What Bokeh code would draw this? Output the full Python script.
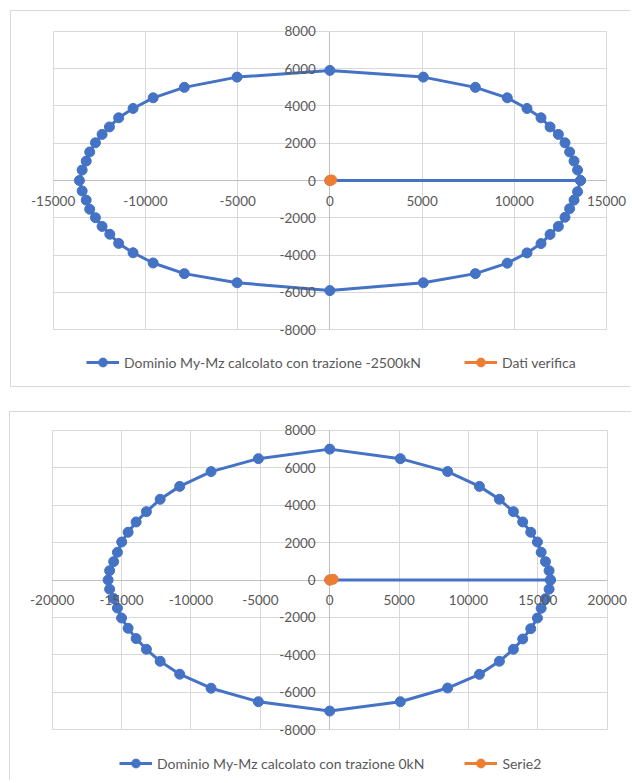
from bokeh.plotting import figure
from bokeh.models import Range1d, LinearAxis, FixedTicker, Legend, LegendItem, Grid, Spacer
from bokeh.layouts import column, row
from bokeh.embed import file_html
from bokeh.resources import INLINE

# ---------------- data: chart 1 (trazione -2500kN) ----------------
dom1_x = [0,
          13590, 13430, 13240, 13000, 12750, 12390, 11940, 11450, 10690, 9620, 7890, 5070, 0,
          -5030, -7890, -9580, -10670, -11450, -11950, -12350, -12710, -13020, -13210, -13430, -13580,
          -13430, -13210, -13020, -12710, -12350, -11930, -11450, -10670, -9580, -7890, -5030, 0,
          5070, 7890, 9620, 10690, 11450, 11940, 12390, 12750, 13000, 13240, 13430, 13590]
dom1_y = [0,
          0, 560, 1040, 1530, 2020, 2470, 2870, 3360, 3860, 4430, 4990, 5540, 5900,
          5540, 4990, 4430, 3860, 3360, 2870, 2470, 2020, 1530, 1040, 560, 0,
          -560, -1050, -1540, -1990, -2460, -2880, -3370, -3870, -4420, -4990, -5480, -5900,
          -5480, -4990, -4430, -3880, -3380, -2890, -2460, -1970, -1510, -1050, -600, 0]
ver1_x = [0, 100]
ver1_y = [0, 30]
label_dom1 = "Dominio My-Mz calcolato con trazione -2500kN"
label_ver1 = "Dati verifica"
x1_ticks = [-15000, -10000, -5000, 0, 5000, 10000, 15000]
x1_labels = ["-15000", "-10000", "-5000", "0", "5000", "10000", "15000"]

# ---------------- data: chart 2 (trazione 0kN) ----------------
dom2_x = [0,
          15910, 15810, 15550, 15240, 14970, 14490, 13910, 13240, 12230, 10790, 8500, 5090, 0,
          -5140, -8550, -10810, -12220, -13210, -13950, -14530, -14990, -15300, -15570, -15860, -15970,
          -15860, -15570, -15300, -15000, -14530, -13950, -13210, -12220, -10810, -8550, -5140, 0,
          5090, 8500, 10790, 12230, 13240, 13910, 14490, 14970, 15240, 15550, 15810, 15910]
dom2_y = [0,
          0, 500, 980, 1480, 2030, 2550, 3100, 3650, 4310, 5000, 5790, 6480, 6990,
          6480, 5790, 5000, 4310, 3650, 3100, 2550, 2030, 1480, 980, 500, 0,
          -490, -990, -1500, -2030, -2580, -3130, -3700, -4340, -5030, -5780, -6500, -7000,
          -6500, -5770, -5040, -4340, -3700, -3150, -2600, -2030, -1510, -1000, -490, 0]
ver2_x = [0, 250]
ver2_y = [0, 40]
label_dom2 = "Dominio My-Mz calcolato con trazione 0kN"
label_ver2 = "Serie2"
x2_ticks = [-20000, -15000, -10000, -5000, 0, 5000, 10000, 15000, 20000]
x2_labels = ["-20000", "-15000", "-10000", "-5000", "0", "5000", "10000", "15000", "20000"]

y_ticks = [-8000, -6000, -4000, -2000, 0, 2000, 4000, 6000, 8000]
y_labels = ["-8000", "-6000", "-4000", "-2000", "0", "2000", "4000", "6000", "8000"]

BLUE = "#4472C4"
ORANGE = "#ED7D31"
TEXT = "#595959"
GRID = "#D9D9D9"
AXIS = "#BFBFBF"
FONT = "Lato"
FSIZE = "13.5px"
LSIZE = "14px"
BORDER = "1px solid #D9D9D9"


def padded_range(v0, v1, p0, p1, c0, c1):
    """Range whose values v0/v1 fall at pixels p0/p1 of a frame spanning pixels c0..c1."""
    k = (p1 - p0) / (v1 - v0)
    return Range1d(v0 - (p0 - c0) / k, v1 + (c1 - p1) / k)


def make_plot(width, height, xr, yr, xticks, xlabels, dx, dy, vx, vy, styles):
    p = figure(width=width, height=height, output_backend="svg", toolbar_location=None,
               x_range=xr, y_range=yr, x_axis_type=None, y_axis_type=None,
               min_border_left=0, min_border_top=0, min_border_right=0, min_border_bottom=0,
               styles=styles)
    p.outline_line_color = None
    p.background_fill_color = "white"
    p.border_fill_color = "white"

    xb = (xticks[0], xticks[-1])
    yb = (y_ticks[0], y_ticks[-1])
    xt = FixedTicker(ticks=xticks)
    yt = FixedTicker(ticks=y_ticks)
    p.add_layout(Grid(dimension=0, ticker=xt, bounds=xb, cross_bounds=yb,
                      grid_line_color=GRID, grid_line_width=1))
    p.add_layout(Grid(dimension=1, ticker=yt, bounds=yb, cross_bounds=xb,
                      grid_line_color=GRID, grid_line_width=1))
    # zero axis lines (drawn under the series)
    p.add_layout(Grid(dimension=0, ticker=FixedTicker(ticks=[0]), cross_bounds=yb,
                      grid_line_color=AXIS, grid_line_width=1))
    p.add_layout(Grid(dimension=1, ticker=FixedTicker(ticks=[0]), cross_bounds=xb,
                      grid_line_color=AXIS, grid_line_width=1))

    for side, tk, labs in (("below", xt, xlabels), ("left", yt, y_labels)):
        ax = LinearAxis(ticker=tk, fixed_location=0,
                        major_label_overrides={t: s for t, s in zip(tk.ticks, labs)})
        ax.axis_line_color = None
        ax.major_tick_out = 0
        ax.major_tick_in = 0
        ax.minor_tick_out = 0
        ax.minor_tick_in = 0
        ax.major_label_text_color = TEXT
        ax.major_label_text_font = FONT
        ax.major_label_text_font_size = FSIZE
        ax.major_label_standoff = 15 if side == "below" else 14
        p.add_layout(ax, side)

    p.line(dx, dy, line_color=BLUE, line_width=3)
    p.scatter(dx, dy, size=10, fill_color=BLUE, line_color=BLUE)
    p.line(vx, vy, line_color=ORANGE, line_width=3)
    p.scatter(vx, vy, size=10, fill_color=ORANGE, line_color=ORANGE)
    return p


def make_legend(width, height, dx, dy, dlabel, vx, vy, vlabel, loc, spacing, styles):
    # legend strip: the series are re-plotted far outside its (empty) view, only the keys show
    q = figure(width=width, height=height, output_backend="svg", toolbar_location=None,
               x_range=Range1d(-2e6, -1e6), y_range=Range1d(-2e6, -1e6),
               x_axis_type=None, y_axis_type=None,
               min_border_left=0, min_border_top=0, min_border_right=0, min_border_bottom=0,
               styles=styles)
    q.outline_line_color = None
    q.background_fill_color = "white"
    q.border_fill_color = "white"
    l1 = q.line(dx, dy, line_color=BLUE, line_width=3)
    s1 = q.scatter(dx, dy, size=10, fill_color=BLUE, line_color=BLUE)
    l2 = q.line(vx, vy, line_color=ORANGE, line_width=3)
    s2 = q.scatter(vx, vy, size=10, fill_color=ORANGE, line_color=ORANGE)
    leg = Legend(items=[LegendItem(label=dlabel, renderers=[l1, s1]),
                        LegendItem(label=vlabel, renderers=[l2, s2])],
                 location=loc, orientation="horizontal")
    leg.padding = 0
    leg.margin = 0
    leg.spacing = spacing
    leg.glyph_width = 33
    leg.glyph_height = 22
    leg.label_height = 22
    leg.label_standoff = 5
    leg.label_text_font = FONT
    leg.label_text_font_size = LSIZE
    leg.label_text_color = TEXT
    leg.border_line_color = None
    leg.background_fill_alpha = 0
    q.add_layout(leg, "center")
    return q


# chart 1: plot canvas spans x 11..631, y 11..340 ; legend strip y 340..388
p1 = make_plot(620, 329,
               padded_range(x1_ticks[0], x1_ticks[-1], 52.7, 606.0, 11, 631),
               padded_range(-8000, 8000, 340 - 329.3, 340 - 30.7, 0, 329),
               x1_ticks, x1_labels, dom1_x, dom1_y, ver1_x, ver1_y,
               {"border-left": BORDER, "border-top": BORDER})
g1 = make_legend(620, 48, dom1_x, dom1_y, label_dom1, ver1_x, ver1_y, label_ver1, (75, 14), 43,
                 {"border-left": BORDER, "border-bottom": BORDER})
# chart 2: plot canvas spans x 10..632, y 414..742 ; legend strip y 742..783
p2 = make_plot(622, 328,
               padded_range(x2_ticks[0], x2_ticks[-1], 51.7, 606.7, 10, 632),
               padded_range(-8000, 8000, 742 - 731.3, 742 - 431.7, 0, 328),
               x2_ticks, x2_labels, dom2_x, dom2_y, ver2_x, ver2_y,
               {"border-left": BORDER, "border-top": BORDER})
g2 = make_legend(622, 41, dom2_x, dom2_y, label_dom2, ver2_x, ver2_y, label_ver2, (109, 6), 40,
                 {"border-left": BORDER})

layout = column(
    Spacer(height=10),
    row(Spacer(width=10), column(p1, g1)),
    Spacer(height=24),
    row(Spacer(width=9), column(p2, g2)),
)
open("out.html", "w").write(file_html(layout, INLINE))
